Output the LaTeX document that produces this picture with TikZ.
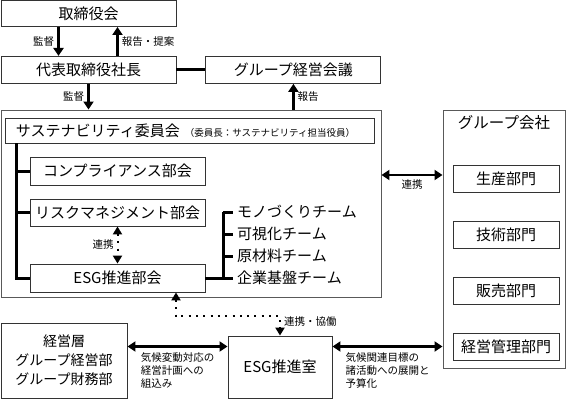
\documentclass[tikz,border=0pt]{standalone}
\usepackage{fontspec}
\setmainfont{Noto Sans CJK JP}
\usetikzlibrary{arrows.meta, positioning, calc}
\tikzset{%
  box/.style={draw=black!80, line width=0.9pt, fill=white, rectangle, inner sep=0pt,
    font=\fontsize{15}{18}\selectfont},
  area/.style={draw=black!65, line width=0.9pt, rectangle, inner sep=0pt},
  arr/.style={line width=2.6pt, -{Triangle[width=10pt,length=8pt]}},
  dblarr/.style={line width=2.6pt, {Triangle[width=10pt,length=8pt]}-{Triangle[width=10pt,length=8pt]}},
  dotarr/.style={line width=2pt, dash pattern=on 2pt off 5.3pt,
    {Triangle[width=9pt,length=8pt]}-{Triangle[width=9pt,length=8pt]}},
  tree/.style={line width=3pt},
  lbl/.style={font=\fontsize{10.5}{13}\selectfont, inner sep=3pt},
  team/.style={anchor=west, inner sep=2pt, font=\fontsize{15}{18}\selectfont}
}
\begin{document}
\begin{tikzpicture}[x=1pt, y=-1pt]
  \useasboundingbox (0,0) rectangle (567,401);
  % top management
  \node[box, minimum width=175pt, minimum height=26pt] (board) at (88.5,13.5) {取締役会};
  \node[box, minimum width=175pt, minimum height=27pt, below=29pt of board] (president) {代表取締役社長};
  \node[box, minimum width=175pt, minimum height=27pt, right=29pt of president] (groupmtg) {グループ経営会議};
  \draw[arr] ([xshift=-30pt]board.south) -- node[lbl, left] {監督} ([xshift=-30pt]president.north);
  \draw[arr] ([xshift=29pt]president.north) -- node[lbl, right] {報告・提案} ([xshift=29pt]board.south);
  \draw[tree] (president) -- (groupmtg);

  % sustainability committee
  \node[area, minimum width=380pt, minimum height=187pt] (susarea) at (191,203.5) {};
  \node[box, minimum width=369pt, minimum height=25pt, text width=347pt, align=left, inner xsep=11pt]
    (committee) at (189.5,130.5)
    {サステナビリティ委員会 {\fontsize{9.5}{11}\selectfont （委員長：サステナビリティ担当役員）}};
  \draw[arr] (president.south) -- node[lbl, left] {監督} (president.south |- susarea.north);
  \draw[arr] (susarea.north -| groupmtg.south) -- node[lbl, right] {報告} (groupmtg.south);

  \node[box, minimum width=175pt, minimum height=28pt] (compliance) at (117.5,171) {コンプライアンス部会};
  \node[box, minimum width=175pt, minimum height=27pt] (risk) at (117.5,212.5) {リスクマネジメント部会};
  \node[box, minimum width=175pt, minimum height=28pt] (esgbu) at (117.5,278) {ESG推進部会};
  \coordinate (trunk) at ([xshift=12pt]committee.south west);
  \draw[tree] (trunk) |- (esgbu.west);
  \draw[tree] (trunk |- compliance.west) -- (compliance.west);
  \draw[tree] (trunk |- risk.west) -- (risk.west);
  \draw[dotarr] (risk.south) -- node[lbl, left] {連携} (esgbu.north);

  % teams
  \foreach \nm/\txt [count=\i] in {mono/モノづくりチーム, visual/可視化チーム,
      material/原材料チーム, base/企業基盤チーム}
    \node[team] (\nm) at (235,190+22*\i) {\txt};
  \draw[tree] (esgbu.east) -- ++(18,0) coordinate (bracket);
  \draw[tree] (bracket) -- (bracket |- mono.west);
  \foreach \nm in {mono, visual, material}
    \draw[tree] (bracket |- \nm.west) -- ++(10,0);
  \draw[tree] (bracket) -- ++(10,0);

  % group companies
  \node[area, minimum width=122pt, minimum height=258pt] (groupco) at (504,239) {};
  \node[font=\fontsize{15.5}{18}\selectfont, below=2pt of groupco.north] (grptitle) {グループ会社};
  \foreach \nm/\txt [count=\i] in {prod/生産部門, tech/技術部門, sales/販売部門, admin/経営管理部門}
    \node[box, minimum width=106pt, minimum height=27pt] (\nm) at (506,122.5+56*\i) {\txt};
  \coordinate (link) at (0,175);
  \draw[dblarr] (susarea.east |- link) -- node[lbl, below] {連携} (groupco.west |- link);

  % bottom row
  \node[box, minimum width=126pt, minimum height=75pt, align=center,
    font=\fontsize{14}{19}\selectfont] (mgmt) at (64,360.5) {経営層\\グループ経営部\\グループ財務部};
  \node[box, minimum width=104pt, minimum height=62pt] (office) at (280,367) {ESG推進室};
  \draw[dblarr] (mgmt.east |- admin.west) -- node[lbl, below, align=left, inner ysep=5pt]
    {気候変動対応の\\経営計画への\\組込み} (office.west |- admin.west);
  \draw[dblarr] (office.east |- admin.west) -- node[lbl, below, align=left, inner ysep=5pt]
    {気候関連目標の\\諸活動への展開と\\予算化} (groupco.west |- admin.west);
  \draw[dotarr] ([xshift=58.5pt]esgbu.south) -- ++(0,24)
    -| node[lbl, pos=0.5, anchor=west, yshift=-5pt] {連携・協働} (office.north);
\end{tikzpicture}
\end{document}
